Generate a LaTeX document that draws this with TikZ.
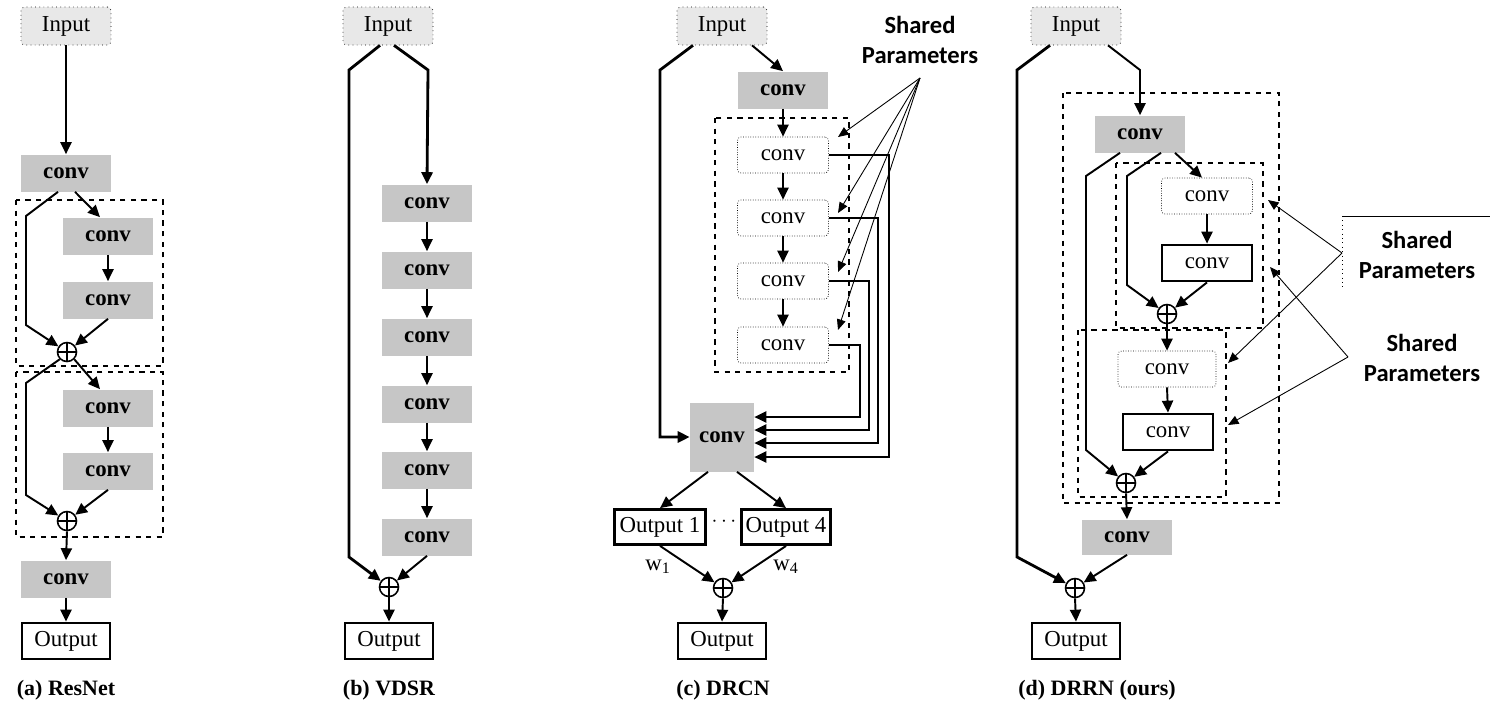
\documentclass[tikz,border=0pt]{standalone}
\usepackage{fontspec}
\setmainfont{Liberation Serif}
\newfontfamily\sharedfont{Carlito}
\usetikzlibrary{arrows.meta,calc}
\begin{document}
\begin{tikzpicture}[x=0.02cm,y=-0.02cm,
 every node/.style={font=\fontsize{13}{15}\selectfont, inner sep=0pt},
 arr/.style={line width=1.1pt,-{Triangle[length=6.8pt,width=6.3pt]}},
 thk/.style={line width=1.6pt,-{Triangle[length=6.8pt,width=6.3pt]}},
 thinarr/.style={line width=0.5pt,-{Triangle[length=6pt,width=5pt]}},
 gconv/.style={fill=gray!45, font=\fontsize{13}{15}\selectfont\bfseries, minimum width=1.8cm, minimum height=0.74cm},
 wconv/.style={draw, densely dotted, rounded corners=2pt, fill=white, minimum width=1.82cm, minimum height=0.72cm},
 tconv/.style={draw, line width=1.6pt, fill=white, minimum width=1.8cm, minimum height=0.72cm},
 inp/.style={draw, dotted, fill=gray!18, rounded corners=2pt, minimum width=1.8cm, minimum height=0.76cm},
 outp/.style={draw, line width=1.6pt, minimum width=1.76cm, minimum height=0.72cm},
 plusnode/.style={circle, draw, line width=0.9pt, minimum size=0.38cm,
   path picture={\draw[line width=0.9pt] (path picture bounding box.north) -- (path picture bounding box.south)
     (path picture bounding box.west) -- (path picture bounding box.east);}},
 dbox/.style={draw, dashed, line width=0.9pt},
 sharedlbl/.style={font=\sharedfont\fontsize{14}{17}\selectfont\bfseries, align=center},
 captxt/.style={font=\fontsize{12.5}{14}\selectfont\bfseries}
]
\useasboundingbox (0,0) rectangle (1500,714);

% ---------------- (a) ResNet ----------------
\draw[dbox] (16,200) rectangle (163,366);
\draw[dbox] (16,372) rectangle (163,537);
\node[inp] (inA) at (66,26) {Input};
\node[gconv] (a1) at (66,173) {conv};
\node[gconv] (a2) at (108,236) {conv};
\node[gconv] (a3) at (108,300) {conv};
\node[plusnode] (pA1) at (67,352) {};
\node[gconv] (a4) at (108,408) {conv};
\node[gconv] (a5) at (108,471) {conv};
\node[plusnode] (pA2) at (67,521) {};
\node[gconv] (a6) at (66,579) {conv};
\node[outp] (outA) at (66,641) {Output};
\node[captxt] (capA) at (66,690) {(a) ResNet};

\draw[arr] (inA.south) -- (a1.north);
\draw[arr] ($(a1.south)+(-8,0)$) -- (26,216) -- (26,325) -- (pA1);
\draw[arr] ($(a1.south)+(9,0)$) -- ($(a2.north)+(-8,0)$);
\draw[arr] (a2.south) -- (a3.north);
\draw[arr] (a3.south) -- (pA1);
\draw[arr] (pA1.south west) -- (26,383) -- (26,495) -- (pA2);
\draw[arr] (pA1.south east) -- ($(a4.north)+(-8,0)$);
\draw[arr] (a4.south) -- (a5.north);
\draw[arr] (a5.south) -- (pA2);
\draw[arr] (pA2.south) -- (a6.north);
\draw[arr] (a6.south) -- (outA.north);

% ---------------- (b) VDSR ----------------
\node[inp] (inB) at (388,26) {Input};
\node[gconv] (b1) at (427,203) {conv};
\node[gconv] (b2) at (427,270) {conv};
\node[gconv] (b3) at (427,337) {conv};
\node[gconv] (b4) at (427,404) {conv};
\node[gconv] (b5) at (427,470) {conv};
\node[gconv] (b6) at (427,537) {conv};
\node[plusnode] (pB) at (389,587) {};
\node[outp] (outB) at (389,641) {Output};
\node[captxt] (capB) at (389,690) {(b) VDSR};

\draw[thk] ($(inB.south)+(-8,0)$) -- (349,70) -- (349,557) -- (pB);
\draw[thk] ($(inB.south)+(6,0)$) -- (428,70) -- (b1.north);
\draw[arr] (b1.south) -- (b2.north);
\draw[arr] (b2.south) -- (b3.north);
\draw[arr] (b3.south) -- (b4.north);
\draw[arr] (b4.south) -- (b5.north);
\draw[arr] (b5.south) -- (b6.north);
\draw[arr] (b6.south) -- (pB);
\draw[arr] (pB.south) -- (outB.north);

% ---------------- (c) DRCN ----------------
\draw[dbox] (715,118) rectangle (849,372);
\node[inp] (inC) at (722,26) {Input};
\node[gconv] (c0) at (783,90) {conv};
\node[wconv] (c1) at (783,155) {conv};
\node[wconv] (c2) at (783,218) {conv};
\node[wconv] (c3) at (783,281) {conv};
\node[wconv] (c4) at (783,345) {conv};
\node[gconv, minimum width=1.28cm, minimum height=1.38cm] (c5) at (722,437) {conv};
\node[outp, minimum width=1.82cm, minimum height=0.7cm] (o1) at (660,527) {Output 1};
\node (dots) at (724,522) {$\cdots$};
\node[outp, minimum width=1.78cm, minimum height=0.7cm] (o4) at (786,527) {Output 4};
\node (w1) at (658,567) {w\textsubscript{1}};
\node (w4) at (786,567) {w\textsubscript{4}};
\node[plusnode] (pC) at (723,588) {};
\node[outp] (outC) at (722,641) {Output};
\node[captxt] (capC) at (723,690) {(c) DRCN};

\draw[thk] ($(inC.south)+(-29,0)$) -- (660,70) -- (660,437) -- (c5.west);
\draw[arr] ($(inC.south)+(30,0)$) -- (c0.north);
\draw[arr] (c0.south) -- (c1.north);
\draw[arr] (c1.south) -- (c2.north);
\draw[arr] (c2.south) -- (c3.north);
\draw[arr] (c3.south) -- (c4.north);
\draw[arr] (c1.east) -- (889,155) -- (889,457) -- ($(c5.east)+(0,20)$);
\draw[arr] (c2.east) -- (878,218) -- (878,443) -- ($(c5.east)+(0,6)$);
\draw[arr] (c3.east) -- (869,281) -- (869,430) -- ($(c5.east)+(0,-7)$);
\draw[arr] (c4.east) -- (860,345) -- (860,417) -- ($(c5.east)+(0,-20)$);
\draw[arr] ($(c5.south)+(-14,0)$) -- (o1.north);
\draw[arr] ($(c5.south)+(15,0)$) -- (o4.north);
\draw[arr] (o1.south) -- (pC);
\draw[arr] (o4.south) -- (pC);
\draw[arr] (pC.south) -- (outC.north);

\node[sharedlbl] (shC) at (920,40) {Shared\\Parameters};
\coordinate (sC) at (920,78);
\coordinate (tC1) at (838,137);
\coordinate (tC2) at (838,213);
\coordinate (tC3) at (838,272);
\coordinate (tC4) at (838,330);
\draw[thinarr] (sC) -- (tC1);
\draw[thinarr] (sC) -- (tC2);
\draw[thinarr] (sC) -- (tC3);
\draw[thinarr] (sC) -- (tC4);

% ---------------- (d) DRRN ----------------
\draw[dbox] (1063,93) rectangle (1279,503);
\draw[dbox] (1116,163) rectangle (1263,328);
\draw[dbox] (1078,330) rectangle (1226,497);
\node[inp] (inD) at (1076,26) {Input};
\node[gconv] (d0) at (1140,134) {conv};
\node[wconv] (d1) at (1207,196) {conv};
\node[tconv] (d2) at (1207,263) {conv};
\node[plusnode] (pD1) at (1167,314) {};
\node[wconv, minimum width=1.96cm] (d3) at (1167,369) {conv};
\node[tconv] (d4) at (1168,432) {conv};
\node[plusnode] (pD2) at (1126,483) {};
\node[gconv, minimum height=0.7cm] (d5) at (1127,537) {conv};
\node[plusnode] (pD3) at (1075,588) {};
\node[outp] (outD) at (1076,641) {Output};
\node[captxt] (capD) at (1097,690) {(d) DRRN (ours)};

\draw[thk] ($(inD.south)+(-26,0)$) -- (1017,70) -- (1017,557) -- (pD3);
\draw[arr] ($(inD.south)+(32,0)$) -- (1140,70) -- (d0.north);
\draw[arr] ($(d0.south)+(-20,0)$) -- (1086,176) -- (1086,450) -- (pD2);
\draw[arr] ($(d0.south)+(21,0)$) -- (1127,176) -- (1127,285) -- (pD1);
\draw[arr] ($(d0.south)+(35,0)$) -- ($(d1.north)+(-5,0)$);
\draw[arr] (d1.south) -- (d2.north);
\draw[arr] (d2.south) -- (pD1);
\draw[arr] (pD1.south) -- (d3.north);
\draw[arr] (d3.south) -- (d4.north);
\draw[arr] (d4.south) -- (pD2);
\draw[arr] (pD2.south) -- (d5.north);
\draw[arr] (d5.south) -- (pD3);
\draw[arr] (pD3.south) -- (outD.north);

\node[sharedlbl] (shD1) at (1417,255) {Shared\\Parameters};
\node[sharedlbl] (shD2) at (1422,358) {Shared\\Parameters};
\draw[line width=0.5pt] (1342,216) -- (1490,216);
\draw[line width=0.5pt, dotted] (1342,216) -- (1342,290);
\coordinate (sD1) at (1342,253);
\coordinate (sD2) at (1348,357);
\coordinate (tD1) at (1268,200);
\coordinate (tD2) at (1228,363);
\coordinate (tD3) at (1270,267);
\coordinate (tD4) at (1228,425);
\draw[thinarr] (sD1) -- (tD1);
\draw[thinarr] (sD1) -- (tD2);
\draw[thinarr] (sD2) -- (tD3);
\draw[thinarr] (sD2) -- (tD4);
\end{tikzpicture}
\end{document}
